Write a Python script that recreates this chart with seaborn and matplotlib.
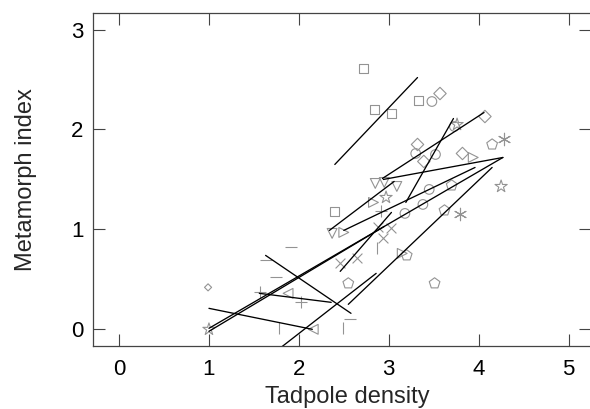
import matplotlib
matplotlib.use('Agg')
import matplotlib.pyplot as plt
import seaborn as sns
import pandas as pd
import numpy as np

# points, one array pair per symbol
sq_x = [2.72, 2.84, 3.03, 3.33, 2.40]
sq_y = [2.61, 2.20, 2.16, 2.29, 1.18]
circ_x = [3.48, 3.30, 3.52, 3.45, 3.38, 3.18, 3.73]
circ_y = [2.28, 1.76, 1.75, 1.40, 1.25, 1.16, 2.03]
diam_x = [3.57, 4.07, 3.32, 3.39, 3.82]
diam_y = [2.36, 2.13, 1.85, 1.68, 1.76]
sdiam_x = [0.99]
sdiam_y = [0.42]
trir_x = [3.94, 2.50, 3.15, 2.83]
trir_y = [1.72, 0.97, 0.76, 1.27]
trid_x = [2.85, 2.95, 3.09, 2.37]
trid_y = [1.46, 1.47, 1.43, 0.96]
tril_x = [1.88, 2.16]
tril_y = [0.36, 0.00]
pent_x = [4.15, 3.70, 3.62, 3.20, 2.55, 3.51]
pent_y = [1.85, 1.44, 1.19, 0.74, 0.46, 0.46]
star_x = [4.25, 2.97, 3.76, 1.00]
star_y = [1.43, 1.32, 2.05, 0.00]
ast_x = [4.28, 3.79]
ast_y = [1.90, 1.15]
cross_x = [3.02, 2.94, 2.88, 2.65, 2.46]
cross_y = [1.01, 0.91, 1.02, 0.71, 0.66]
plus_x = [2.91, 2.02, 1.57]
plus_y = [1.18, 0.27, 0.37]
vbar_x = [2.87, 2.49, 1.78]
vbar_y = [0.81, 0.01, 0.01]
dash_x = [1.91, 1.63, 1.75, 2.57]
dash_y = [0.82, 0.69, 0.52, 0.10]

# fitted lines, start and end
line_x0 = [2.40, 2.93, 3.19, 2.94, 2.34, 2.50, 1.00, 1.00, 2.46, 2.55, 1.76, 1.63, 1.56, 1.00]
line_y0 = [1.65, 1.51, 1.27, 1.50, 0.99, 0.99, 0.01, -0.02, 0.58, 0.25, -0.21, 0.74, 0.36, 0.21]
line_x1 = [3.32, 4.06, 3.72, 4.27, 3.06, 3.96, 4.27, 2.95, 3.03, 4.15, 2.86, 2.58, 2.36, 2.15]
line_y1 = [2.52, 2.17, 2.11, 1.72, 1.48, 1.62, 1.72, 1.03, 1.17, 1.62, 0.56, 0.16, 0.27, 0.00]

sns.set_theme(style='ticks')
plt.rcParams['font.family'] = ['Liberation Sans', 'DejaVu Sans']

fig = plt.figure(figsize=(5.9, 4.09), dpi=100)
ax = fig.add_axes([93/590, 63/409, 498/590, 333/409])

gray = '#939393'
open_sets = [(sq_x, sq_y, 's', 45), (circ_x, circ_y, 'o', 48), (diam_x, diam_y, 'D', 40),
             (sdiam_x, sdiam_y, 'D', 13), (trir_x, trir_y, '>', 50), (trid_x, trid_y, 'v', 50),
             (tril_x, tril_y, '<', 50), (pent_x, pent_y, 'p', 65), (star_x, star_y, '*', 85)]
for xs, ys, m, s in open_sets:
    sns.scatterplot(x=xs, y=ys, marker=m, s=s, facecolor='none', edgecolor=gray,
                    linewidth=0.8, ax=ax)

line_sets = [(ast_x, ast_y, (6, 2, 0), 80), (cross_x, cross_y, 'x', 50), (plus_x, plus_y, '+', 70),
             (vbar_x, vbar_y, '|', 80), (dash_x, dash_y, '_', 80)]
for xs, ys, m, s in line_sets:
    sns.scatterplot(x=xs, y=ys, marker=m, s=s, color=gray, linewidth=0.8, ax=ax)

segs = pd.DataFrame({
    'seg': np.repeat(np.arange(len(line_x0)), 2),
    'x': np.ravel(np.column_stack([line_x0, line_x1])),
    'y': np.ravel(np.column_stack([line_y0, line_y1])),
})
sns.lineplot(data=segs, x='x', y='y', units='seg', estimator=None, sort=False,
             color='black', linewidth=0.95, ax=ax)

ax.set_xlim(-0.29, 5.25)
ax.set_ylim(-0.167, 3.166)
ax.set_xticks([0, 1, 2, 3, 4, 5])
ax.set_yticks([0, 1, 2, 3])
ax.tick_params(direction='in', length=8.5, width=0.8, color='#444444', labelsize=16,
               top=True, right=True, labelcolor='black')
ax.tick_params(axis='x', pad=9.5)
ax.tick_params(axis='y', pad=7)
for sp in ax.spines.values():
    sp.set_color('#444444')
    sp.set_linewidth(0.9)
ax.set_xlabel('Tadpole density', fontsize=17)
ax.set_ylabel('Metamorph index', fontsize=17)
ax.xaxis.set_label_coords(0.51, -0.12)
ax.yaxis.set_label_coords(-0.112, 0.5)

fig.savefig('out.png', dpi=100)
